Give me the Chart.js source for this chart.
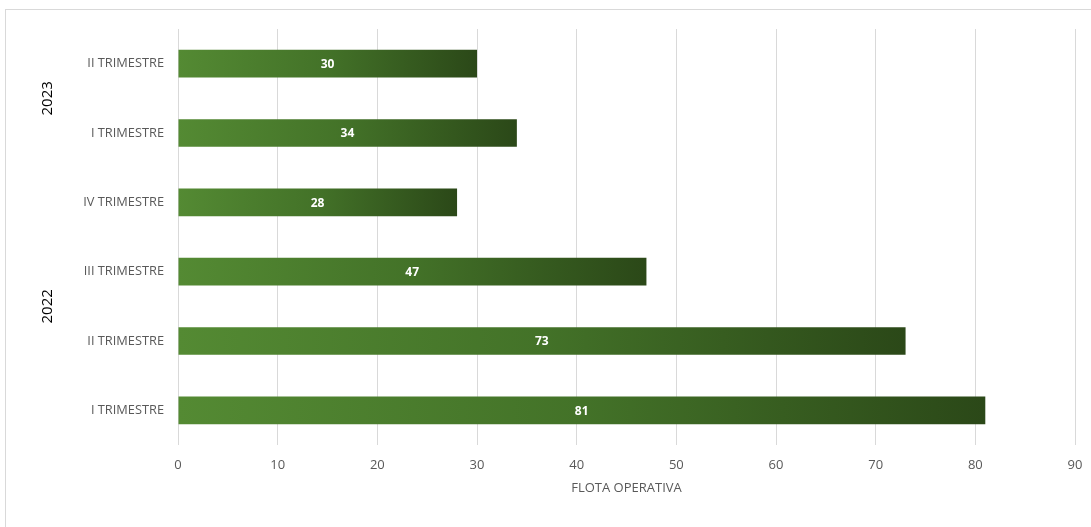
<!DOCTYPE html>
<html lang="es">
<head>
    <meta charset="UTF-8">
    <title>Flota operativa</title>
    <script src="https://cdn.jsdelivr.net/npm/chart.js"></script>
    <style>
        body {
            margin: 0;
            padding: 0;
            background: #fff;
            overflow: hidden;
        }
        #wrap {
            position: relative;
            width: 1091px;
            height: 527px;
        }
        #frame {
            position: absolute;
            left: 5px;
            top: 9px;
            width: 1100px;
            height: 540px;
            border: 1px solid #d9d9d9;
            box-sizing: border-box;
        }
    </style>
</head>
<body>
    <div id="wrap">
        <div id="frame"></div>
        <canvas id="myChart" width="1091" height="527"></canvas>
    </div>

    <script>
        // data, top to bottom as in the picture
        const quarters = ['II TRIMESTRE', 'I TRIMESTRE', 'IV TRIMESTRE', 'III TRIMESTRE', 'II TRIMESTRE', 'I TRIMESTRE'];
        const years = ['2023', '2023', '2022', '2022', '2022', '2022'];
        const flota = [30, 34, 28, 47, 73, 81];
        const xTicks = [0, 10, 20, 30, 40, 50, 60, 70, 80, 90];

        const font = "'Open Sans', 'Liberation Sans', sans-serif";

        function barGradient(context) {
            const chart = context.chart;
            const area = chart.chartArea;
            if (!area || !chart.scales.x) return '#4a7a2c';
            const v = context.raw;
            const x0 = chart.scales.x.getPixelForValue(0);
            const x1 = chart.scales.x.getPixelForValue(v);
            const g = chart.ctx.createLinearGradient(x0, 0, x1, 0);
            g.addColorStop(0, '#548a33');
            g.addColorStop(0.5, '#437228');
            g.addColorStop(1, '#2b4818');
            return g;
        }

        // value labels inside bars + year group labels
        const extras = {
            id: 'extras',
            afterDatasetsDraw(chart) {
                const ctx = chart.ctx;
                const meta = chart.getDatasetMeta(0);
                const xs = chart.scales.x;
                ctx.save();
                ctx.fillStyle = '#ffffff';
                ctx.font = "bold 12px " + font;
                ctx.textAlign = 'center';
                ctx.textBaseline = 'middle';
                meta.data.forEach((bar, i) => {
                    const cx = xs.getPixelForValue(flota[i] / 2);
                    ctx.fillText(String(flota[i]), cx, bar.y + 1);
                });

                // year groups
                const ys = chart.scales.y;
                const band = (ys.bottom - ys.top) / quarters.length;
                const groups = [];
                years.forEach((y, i) => {
                    const last = groups[groups.length - 1];
                    if (last && last.name === y) last.end = i;
                    else groups.push({ name: y, start: i, end: i });
                });
                ctx.fillStyle = '#000000';
                ctx.font = "15px " + font;
                groups.forEach(g => {
                    const top = ys.top + g.start * band;
                    const bottom = ys.top + (g.end + 1) * band;
                    ctx.save();
                    ctx.translate(48, (top + bottom) / 2);
                    ctx.rotate(-Math.PI / 2);
                    ctx.fillText(g.name, 0, 0);
                    ctx.restore();
                });
                ctx.restore();
            }
        };

        const ctx = document.getElementById('myChart').getContext('2d');
        const myChart = new Chart(ctx, {
            type: 'bar',
            data: {
                labels: quarters,
                datasets: [
                    {
                        label: 'FLOTA OPERATIVA',
                        data: flota,
                        backgroundColor: barGradient,
                        borderWidth: 0,
                        categoryPercentage: 1,
                        barPercentage: 0.4
                    }
                ]
            },
            options: {
                responsive: false,
                animation: false,
                indexAxis: 'y',
                layout: {
                    padding: { top: 29, right: 16, left: 0, bottom: 0 }
                },
                plugins: {
                    legend: { display: false },
                    tooltip: { enabled: false }
                },
                scales: {
                    x: {
                        min: 0,
                        max: 90,
                        afterBuildTicks(scale) {
                            scale.ticks = xTicks.map(v => ({ value: v }));
                        },
                        afterFit(scale) {
                            scale.height = 82;
                            scale.paddingRight = 0;
                            scale.paddingLeft = 0;
                        },
                        grid: {
                            color: '#d9d9d9',
                            drawTicks: false
                        },
                        border: { display: false },
                        ticks: {
                            color: '#595959',
                            padding: 12,
                            font: { family: font, size: 13 }
                        },
                        title: {
                            display: true,
                            text: 'FLOTA OPERATIVA',
                            color: '#595959',
                            padding: { top: 6, bottom: 31 },
                            font: { family: font, size: 13 }
                        }
                    },
                    y: {
                        afterFit(scale) {
                            scale.width = 178;
                        },
                        grid: { display: false, drawTicks: false },
                        border: { display: false },
                        ticks: {
                            color: '#595959',
                            padding: 14,
                            font: { family: font, size: 12.8 }
                        }
                    }
                }
            },
            plugins: [extras]
        });
    </script>
</body>
</html>
